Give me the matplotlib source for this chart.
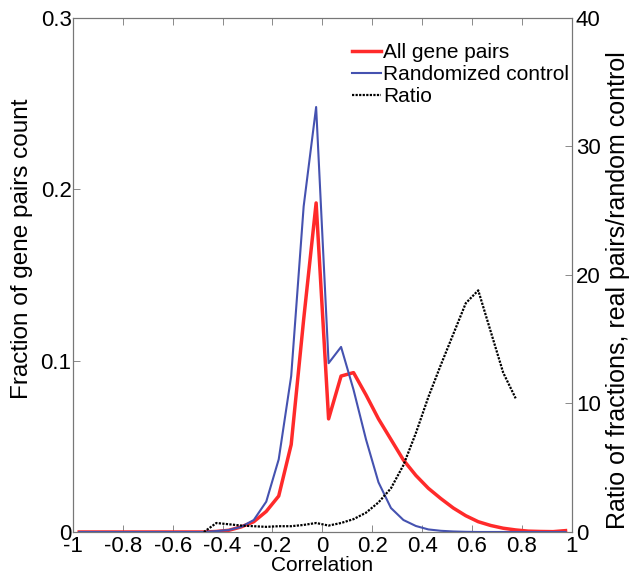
import numpy as np
import matplotlib
matplotlib.use('Agg')
import matplotlib.pyplot as plt

plt.rcParams['font.family'] = ['Liberation Sans', 'DejaVu Sans']

# bin centres of the correlation histogram
corr = np.round(np.arange(-0.975, 1.0, 0.05), 3)

all_pairs = [0, 0, 0, 0, 0, 0, 0, 0, 0, 0, 0,
             0.0003, 0.001, 0.003, 0.006, 0.012, 0.021, 0.051, 0.124, 0.192,
             0.066, 0.091, 0.093, 0.080, 0.066, 0.054, 0.042, 0.033, 0.0255,
             0.0195, 0.014, 0.0095, 0.006, 0.0038, 0.0022, 0.0012, 0.0005,
             0.0003, 0.0002, 0.0008]

random_ctrl = [0, 0, 0, 0, 0, 0, 0, 0, 0, 0, 0,
               0.0005, 0.0012, 0.003, 0.007, 0.0177, 0.0424, 0.091, 0.19, 0.248,
               0.0985, 0.108, 0.083, 0.054, 0.029, 0.014, 0.007, 0.0035, 0.0015,
               0.0007, 0.0003, 0.0001, 0, 0, 0, 0, 0, 0, 0, 0]

nan = np.nan
ratio = [nan, nan, nan, nan, nan, nan, nan, nan, nan, nan, 0,
         0.7, 0.6, 0.5, 0.45, 0.4, 0.45, 0.45, 0.55, 0.7,
         0.5, 0.7, 1.0, 1.5, 2.3, 3.4, 5.2, 7.7, 10.5,
         13.0, 15.4, 17.8, 18.8, 15.6, 12.4, 10.4, nan, nan, nan, nan]

fig = plt.figure(figsize=(6.29, 5.77), dpi=100)
ax = fig.add_axes([0.116, 0.078, 0.793, 0.891])

l1, = ax.plot(corr, all_pairs, color='#ff2a2a', lw=2.5, label='All gene pairs')
l2, = ax.plot(corr, random_ctrl, color='#4552b0', lw=1.5, label='Randomized control')
ax.set_xlim(-1, 1)
ax.set_ylim(0, 0.3)
ax.set_xticks(np.round(np.arange(-1, 1.01, 0.2), 1))
ax.set_xticklabels(['-1', '-0.8', '-0.6', '-0.4', '-0.2', '0', '0.2', '0.4', '0.6', '0.8', '1'])
ax.set_yticks([0, 0.1, 0.2, 0.3])
ax.set_yticklabels(['0', '0.1', '0.2', '0.3'])
ax.tick_params(direction='in', length=5, width=0.6, colors='#777777',
               labelcolor='black', labelsize=16, top=True, right=True, pad=1)
ax.tick_params(axis='x', pad=3)
ax.set_xlabel('Correlation', fontsize=15, labelpad=-1)
ax.set_ylabel('Fraction of gene pairs count', fontsize=17.5)
ax.yaxis.set_label_coords(-0.08, 0.55)
for s in ax.spines.values():
    s.set_color('#777777')
    s.set_linewidth(0.8)

ax2 = ax.twinx()
l3, = ax2.plot(corr, ratio, color='black', lw=1.6, linestyle=(0, (1, 0.6)), label='Ratio')
ax2.set_ylim(0, 40)
ax2.set_yticks([0, 10, 20, 30, 40])
ax2.tick_params(direction='in', length=5, width=0.6, colors='#777777',
                labelcolor='black', labelsize=16, pad=3)
ax2.set_ylabel('Ratio of fractions, real pairs/random control', fontsize=18)
ax2.yaxis.set_label_coords(1.068, 0.47)
for s in ax2.spines.values():
    s.set_color('#777777')
    s.set_linewidth(0.8)

ax2.legend(handles=[l1, l2, l3], loc='upper right', bbox_to_anchor=(1.02, 0.975),
           frameon=False, fontsize=15, handlelength=1.4, handletextpad=0.1,
           labelspacing=0.15, borderaxespad=0.2)

fig.savefig('out.png', dpi=100)
